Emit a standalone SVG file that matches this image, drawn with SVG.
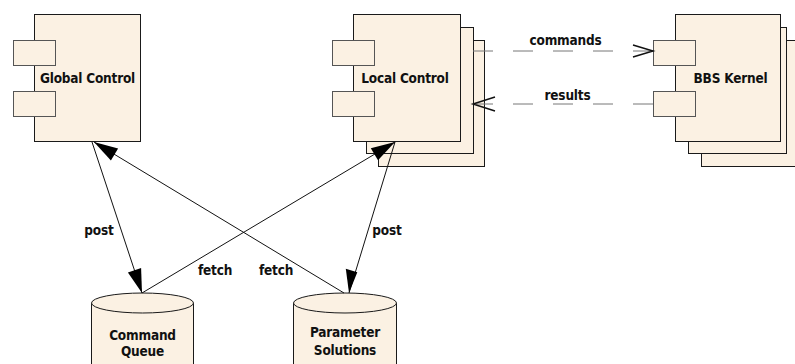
<svg xmlns="http://www.w3.org/2000/svg" width="795" height="364" viewBox="0 0 795 364">
  <style>
    .box { fill: #FBF1E3; stroke: #1a1a1a; stroke-width: 1; }
    .port { fill: #FBF1E3; stroke: #555; stroke-width: 1; }
    .db { fill: #FBF1E3; stroke: #1a1a1a; stroke-width: 1; }
    .lbl { font-family: "DejaVu Sans Condensed", "DejaVu Sans", sans-serif; font-weight: bold; font-size: 13.5px; fill: #111; text-anchor: middle; letter-spacing: -0.2px; }
    .edge { stroke: #111; stroke-width: 1; fill: none; }
    .dash { stroke: #777; stroke-width: 1; fill: none; stroke-dasharray: 20 20; }
    .open { stroke: #111; stroke-width: 1.5; fill: none; }
    .head { fill: #000; stroke: none; }
  </style>

  <!-- components -->
  <g id="global-control">
    <rect class="box" x="34.5" y="14.5" width="106" height="127"/>
    <rect class="port" x="13.5" y="40.5" width="42" height="25"/>
    <rect class="port" x="13.5" y="91.5" width="42" height="25"/>
    <text class="lbl" x="87.5" y="83">Global Control</text>
  </g>

  <g id="local-control">
    <rect class="box" x="378.5" y="40.5" width="106" height="126"/>
    <rect class="box" x="366.5" y="27.5" width="107" height="126"/>
    <rect class="box" x="353.5" y="14.5" width="107" height="127"/>
    <rect class="port" x="332.5" y="40.5" width="42" height="25"/>
    <rect class="port" x="332.5" y="91.5" width="42" height="25"/>
    <text class="lbl" x="405" y="83">Local Control</text>
  </g>

  <g id="bbs-kernel">
    <rect class="box" x="701.5" y="40.5" width="100" height="126"/>
    <rect class="box" x="688.5" y="27.5" width="98" height="126"/>
    <rect class="box" x="675.5" y="14.5" width="105" height="127"/>
    <rect class="port" x="653.5" y="40.5" width="42" height="25"/>
    <rect class="port" x="653.5" y="91.5" width="42" height="25"/>
    <text class="lbl" x="730.5" y="83">BBS Kernel</text>
  </g>

  <!-- data stores -->
  <g id="command-queue">
    <path class="db" d="M91.5,303 A51,10 0 0,1 193.5,303 L193.5,370 L91.5,370 Z"/>
    <path class="db" d="M91.5,303 A51,10 0 0,0 193.5,303" fill="none"/>
    <text class="lbl" x="142.5" y="340">Command</text>
    <text class="lbl" x="142.5" y="356">Queue</text>
  </g>

  <g id="parameter-solutions">
    <path class="db" d="M293.5,303 A51.5,10 0 0,1 396.5,303 L396.5,370 L293.5,370 Z"/>
    <path class="db" d="M293.5,303 A51.5,10 0 0,0 396.5,303" fill="none"/>
    <text class="lbl" x="345" y="337">Parameter</text>
    <text class="lbl" x="345" y="355">Solutions</text>
  </g>

  <!-- connectors -->
  <g id="connectors">
    <!-- Global Control post -> Command Queue -->
    <line class="edge" x1="92" y1="142" x2="142" y2="293"/>
    <polygon class="head" points="142,293 127.9,272.4 141.1,268"/>
    <text class="lbl" x="99" y="235">post</text>

    <!-- Parameter Solutions fetch -> Global Control -->
    <line class="edge" x1="344" y1="293" x2="94" y2="142"/>
    <polygon class="head" points="94,142 118.1,148.4 110.9,160.4"/>
    <text class="lbl" x="276" y="275">fetch</text>

    <!-- Command Queue fetch -> Local Control -->
    <line class="edge" x1="142" y1="293" x2="395" y2="142"/>
    <polygon class="head" points="395,142 378,160.3 370.8,148.3"/>
    <text class="lbl" x="215" y="275">fetch</text>

    <!-- Local Control post -> Parameter Solutions -->
    <line class="edge" x1="395" y1="142" x2="349" y2="293"/>
    <polygon class="head" points="349,293 345.8,268.7 357.3,272.2"/>
    <text class="lbl" x="387" y="235">post</text>

    <!-- commands: Local Control -> BBS Kernel -->
    <line class="dash" x1="473" y1="51" x2="653" y2="51"/>
    <polyline class="open" points="633,45 653,51 633,57"/>
    <text class="lbl" x="565.5" y="45">commands</text>

    <!-- results: BBS Kernel -> Local Control -->
    <line class="dash" x1="653" y1="104" x2="473" y2="104"/>
    <polyline class="open" points="495,97 473,104 495,111"/>
    <text class="lbl" x="567.5" y="100">results</text>
  </g>
</svg>
